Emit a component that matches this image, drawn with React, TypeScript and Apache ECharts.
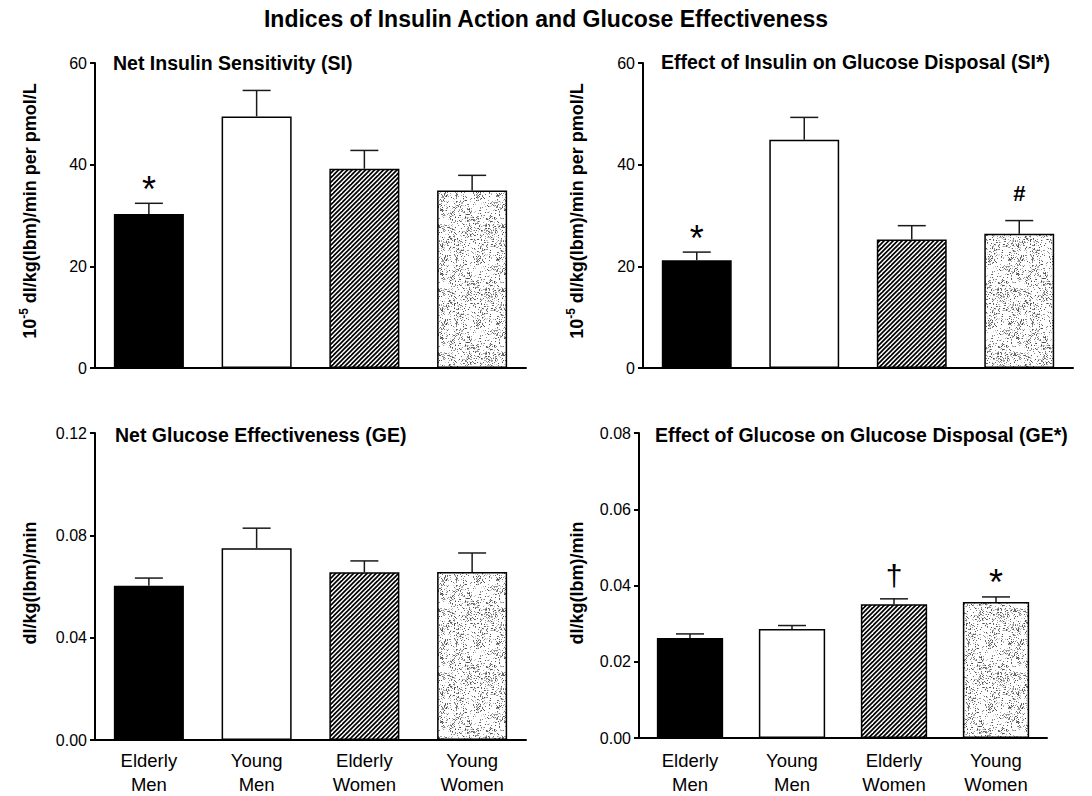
import React, { useEffect, useRef } from "react";
import * as echarts from "echarts";

// Groups on the category axis
const categories = ["Elderly\nMen", "Young\nMen", "Elderly\nWomen", "Young\nWomen"];

// Net insulin sensitivity (SI), 10^-5 dl/kg(lbm)/min per pmol/L
const siMean = [30.3, 49.5, 39.2, 34.9];
const siUpper = [32.4, 54.6, 42.8, 37.9];
const siMarks = ["*", "", "", ""];

// Effect of insulin on glucose disposal (SI*)
const siStarMean = [21.2, 44.9, 25.3, 26.4];
const siStarUpper = [22.8, 49.3, 28.0, 29.0];
const siStarMarks = ["*", "", "", "#"];

// Net glucose effectiveness (GE), dl/kg(lbm)/min
const geMean = [0.0603, 0.075, 0.0656, 0.0657];
const geUpper = [0.0633, 0.0828, 0.07, 0.0731];
const geMarks = ["", "", "", ""];

// Effect of glucose on glucose disposal (GE*)
const geStarMean = [0.0262, 0.0286, 0.0351, 0.0357];
const geStarUpper = [0.0273, 0.0295, 0.0365, 0.037];
const geStarMarks = ["", "", "\u2020", "*"];

// Axis ranges
const siAxis = { min: 0, max: 60, interval: 20 };
const geAxis = { min: 0, max: 0.12, interval: 0.04 };
const geStarAxis = { min: 0, max: 0.08, interval: 0.02 };

const FONT = "'Liberation Sans', Arial, Helvetica, sans-serif";

function hash01(x: number, y: number, s: number): number {
  let h = (Math.imul(x, 374761393) + Math.imul(y, 668265263) + Math.imul(s, 982451653)) | 0;
  h = Math.imul(h ^ (h >>> 13), 1274126177);
  h = h ^ (h >>> 16);
  return (h >>> 0) / 4294967295;
}

// Diagonal "/" hatching tile
function makeHatch() {
  const size = 9;
  const c = document.createElement("canvas");
  c.width = size;
  c.height = size;
  const ctx = c.getContext("2d")!;
  ctx.fillStyle = "#fff";
  ctx.fillRect(0, 0, size, size);
  ctx.strokeStyle = "#000";
  ctx.lineWidth = 1.7;
  for (const k of [0, 4.5, 9, 13.5, 18]) {
    ctx.beginPath();
    ctx.moveTo(k + 1, -1);
    ctx.lineTo(-1, k + 1);
    ctx.stroke();
  }
  return { image: c.toDataURL(), repeat: "repeat", imageWidth: size, imageHeight: size };
}

// Grey speckle tile
function makeStipple() {
  const size = 64;
  const c = document.createElement("canvas");
  c.width = size;
  c.height = size;
  const ctx = c.getContext("2d")!;
  const img = ctx.createImageData(size, size);
  for (let y = 0; y < size; y++) {
    for (let x = 0; x < size; x++) {
      const clump = hash01(x >> 3, y >> 3, 7);
      const p = hash01(x, y, 1);
      const g = hash01(x, y, 2);
      let v = 255;
      if (p < 0.12 + clump * 0.26) v = Math.round(70 + g * 140);
      const i = (y * size + x) * 4;
      img.data[i] = v;
      img.data[i + 1] = v;
      img.data[i + 2] = v;
      img.data[i + 3] = 255;
    }
  }
  ctx.putImageData(img, 0, 0);
  return { image: c.toDataURL(), repeat: "repeat", imageWidth: size, imageHeight: size };
}

export default function App() {
  const ref = useRef<HTMLDivElement>(null);

  useEffect(() => {
    if (!ref.current) return;
    const chart = echarts.init(ref.current, undefined, { renderer: "svg" });
    const fills: any[] = ["#000000", "#ffffff", makeHatch(), makeStipple()];

    const grids = [
      { left: 95, top: 63, width: 431, height: 305 },
      { left: 643, top: 63, width: 430, height: 305 },
      { left: 95, top: 433, width: 431, height: 307 },
      { left: 639, top: 433, width: 408, height: 305 },
    ].map((g) => ({ ...g, containLabel: false, outerBoundsMode: "none" }));
    const panels = [
      { mean: siMean, upper: siUpper, marks: siMarks, axis: siAxis, digits: 0, labels: false },
      { mean: siStarMean, upper: siStarUpper, marks: siStarMarks, axis: siAxis, digits: 0, labels: false },
      { mean: geMean, upper: geUpper, marks: geMarks, axis: geAxis, digits: 2, labels: true },
      { mean: geStarMean, upper: geStarUpper, marks: geStarMarks, axis: geStarAxis, digits: 2, labels: true },
    ];

    const xAxis = panels.map((p, i) => ({
      type: "category",
      gridIndex: i,
      data: categories,
      boundaryGap: true,
      axisLine: { show: true, lineStyle: { color: "#000", width: 2 } },
      axisTick: { show: false },
      axisLabel: {
        show: p.labels,
        color: "#000",
        fontFamily: FONT,
        fontSize: 18.5,
        lineHeight: 24,
        margin: i === 3 ? 10 : 8,
      },
      splitLine: { show: false },
    }));

    const yAxis = panels.map((p, i) => ({
      type: "value",
      gridIndex: i,
      min: p.axis.min,
      max: p.axis.max,
      interval: p.axis.interval,
      axisLine: { show: true, lineStyle: { color: "#000", width: 2 } },
      axisTick: { show: true, length: 5, lineStyle: { color: "#000", width: 2 } },
      axisLabel: {
        color: "#000",
        fontFamily: FONT,
        fontSize: 16,
        margin: 8,
        formatter: (v: number) => v.toFixed(p.digits),
      },
      splitLine: { show: false },
    }));

    const series: any[] = [];
    panels.forEach((p, gi) => {
      series.push({
        type: "bar",
        xAxisIndex: gi,
        yAxisIndex: gi,
        barWidth: "65%",
        data: p.mean.map((v, i) => ({
          value: v,
          itemStyle: { color: fills[i], borderColor: "#000", borderWidth: 1.5 },
        })),
        z: 2,
      });
      // error bars (mean to upper limit) with significance marks above them
      series.push({
        type: "custom",
        xAxisIndex: gi,
        yAxisIndex: gi,
        z: 5,
        data: p.mean.map((v, i) => [i, v, p.upper[i]]),
        encode: { x: 0, y: [1, 2] },
        renderItem: (params: any, api: any) => {
          const idx = api.value(0);
          const a = api.coord([idx, api.value(1)]);
          const b = api.coord([idx, api.value(2)]);
          const style = { stroke: "#1a1a1a", lineWidth: 1.5 };
          const children: any[] = [
            { type: "line", shape: { x1: a[0], y1: a[1], x2: b[0], y2: b[1] }, style },
            { type: "line", shape: { x1: b[0] - 14, y1: b[1], x2: b[0] + 14, y2: b[1] }, style },
          ];
          const mark = p.marks[params.dataIndex];
          if (mark) {
            const cfg =
              mark === "*"
                ? { size: 36, dy: 14, weight: "normal" }
                : mark === "#"
                ? { size: 22, dy: 27, weight: "bold" }
                : { size: 30, dy: 23, weight: "normal" };
            children.push({
              type: "text",
              x: b[0],
              y: b[1] - cfg.dy,
              style: {
                text: mark,
                fill: "#000",
                fontFamily: FONT,
                fontSize: cfg.size,
                fontWeight: cfg.weight,
                align: "center",
                verticalAlign: "middle",
              },
            });
          }
          return { type: "group", children };
        },
      });
    });

    const titleStyle = { fontFamily: FONT, fontSize: 19.5, fontWeight: "bold", color: "#000" };
    const yNameRich = {
      a: { fontFamily: FONT, fontSize: 18, fontWeight: "bold", fill: "#000", lineHeight: 24 },
      s: { fontFamily: FONT, fontSize: 12, fontWeight: "bold", fill: "#000", verticalAlign: "top" },
    };
    const panelTitle = (text: string, left: number, top: number) => ({
      text,
      left,
      top,
      padding: 0,
      textStyle: titleStyle,
    });
    const yName = (text: string, x: number, y: number, rich?: any) => ({
      type: "text",
      x,
      y,
      rotation: Math.PI / 2,
      style: rich
        ? { text, rich, align: "center", verticalAlign: "middle" }
        : {
            text,
            fontFamily: FONT,
            fontSize: 18,
            fontWeight: "bold",
            fill: "#000",
            align: "center",
            verticalAlign: "middle",
          },
    });

    chart.setOption({
      animation: false,
      backgroundColor: "#fff",
      title: [
        {
          text: "Indices of Insulin Action and Glucose Effectiveness",
          left: "center",
          top: 7,
          padding: 0,
          textStyle: { fontFamily: FONT, fontSize: 23, fontWeight: "bold", color: "#000" },
        },
        panelTitle("Net Insulin Sensitivity (SI)", 113, 53),
        panelTitle("Effect of Insulin on Glucose Disposal (SI*)", 661, 52),
        panelTitle("Net Glucose Effectiveness (GE)", 115, 425),
        panelTitle("Effect of Glucose on Glucose Disposal (GE*)", 655, 425),
      ],
      grid: grids,
      xAxis,
      yAxis,
      series,
      graphic: [
        yName("{a|10}{s|-5}{a| dl/kg(lbm)/min per pmol/L}", 30, 211, yNameRich),
        yName("{a|10}{s|-5}{a| dl/kg(lbm)/min per pmol/L}", 577, 211, yNameRich),
        yName("dl/kg(lbm)/min", 30, 583),
        yName("dl/kg(lbm)/min", 577, 583),
      ],
    });

    return () => chart.dispose();
  }, []);

  return (
    <div
      ref={ref}
      style={{ position: "fixed", left: 0, top: 0, width: 1092, height: 796, background: "#fff" }}
    />
  );
}
